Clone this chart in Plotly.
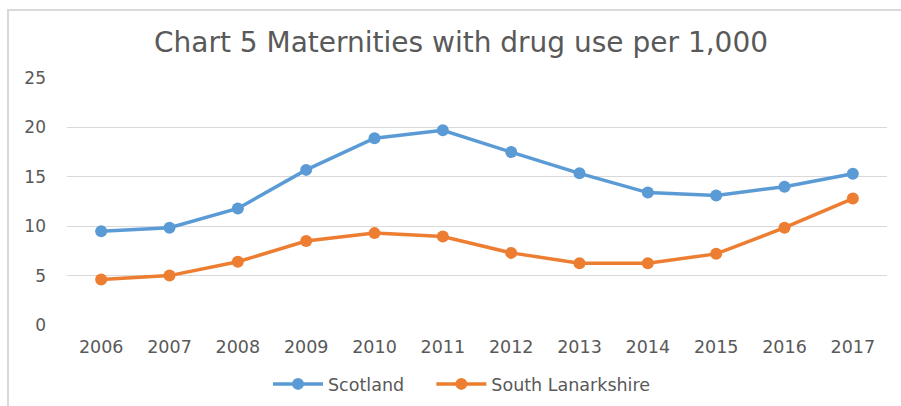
import plotly.graph_objects as go

years = ["2006", "2007", "2008", "2009", "2010", "2011",
         "2012", "2013", "2014", "2015", "2016", "2017"]
scotland = [9.5, 9.85, 11.8, 15.7, 18.9, 19.7, 17.5, 15.35, 13.4, 13.1, 14.0, 15.3]
south_lanarkshire = [4.6, 5.0, 6.4, 8.5, 9.3, 8.95, 7.3, 6.25, 6.25, 7.2, 9.85, 12.8]
y_ticks = [0, 5, 10, 15, 20, 25]

W, H = 901, 406
L, R, T, B = 67, 14, 78, 81
pw, ph = W - L - R, H - T - B

grey_text = "#595959"
font_family = "DejaVu Sans, Verdana, sans-serif"
NBSP = "\u00a0"

fig = go.Figure()
fig.add_trace(go.Scatter(
    x=years, y=scotland, name="Scotland" + NBSP * 4, mode="lines+markers",
    line=dict(color="#5B9BD5", width=3.5),
    marker=dict(color="#5B9BD5", size=12),
))
fig.add_trace(go.Scatter(
    x=years, y=south_lanarkshire, name="South Lanarkshire", mode="lines+markers",
    line=dict(color="#ED7D31", width=3.5),
    marker=dict(color="#ED7D31", size=12),
))

# light chart-area frame (top and left edges visible)
fig.add_shape(type="rect", xref="paper", yref="paper",
              x0=(8 - L) / pw, x1=(W + 20 - L) / pw,
              y0=(H - B - (H + 20)) / ph, y1=(H - B - 10) / ph,
              line=dict(color="#d9d9d9", width=2), fillcolor="rgba(0,0,0,0)",
              layer="below")

fig.update_layout(
    width=W, height=H,
    margin=dict(l=L, r=R, t=T, b=B, pad=0, autoexpand=False),
    paper_bgcolor="white", plot_bgcolor="white",
    title=dict(text="Chart 5 Maternities with drug use per 1,000",
               x=461 / W, xanchor="center", y=1 - 42 / H, yanchor="middle",
               font=dict(family=font_family, size=28, color=grey_text)),
    font=dict(family=font_family, color=grey_text),
    showlegend=True,
    legend=dict(orientation="h", x=(462 - L) / pw, xanchor="center",
                y=(H - B - 384) / ph, yanchor="middle",
                font=dict(size=17.5, color=grey_text), itemwidth=50,
                bgcolor="rgba(0,0,0,0)"),
    xaxis=dict(type="category", range=[-0.5, len(years) - 0.5],
               showgrid=False, zeroline=False,
               showline=False, ticks="", automargin=False,
               tickfont=dict(size=17.5, color=grey_text), ticklabelstandoff=9),
    yaxis=dict(range=[0, 25], tickvals=y_ticks, showgrid=True,
               gridcolor="#d9d9d9", gridwidth=1, zeroline=False,
               showline=False, ticks="", automargin=False,
               tickfont=dict(size=17, color=grey_text), ticklabelstandoff=20),
)

fig.write_html("out.html")
